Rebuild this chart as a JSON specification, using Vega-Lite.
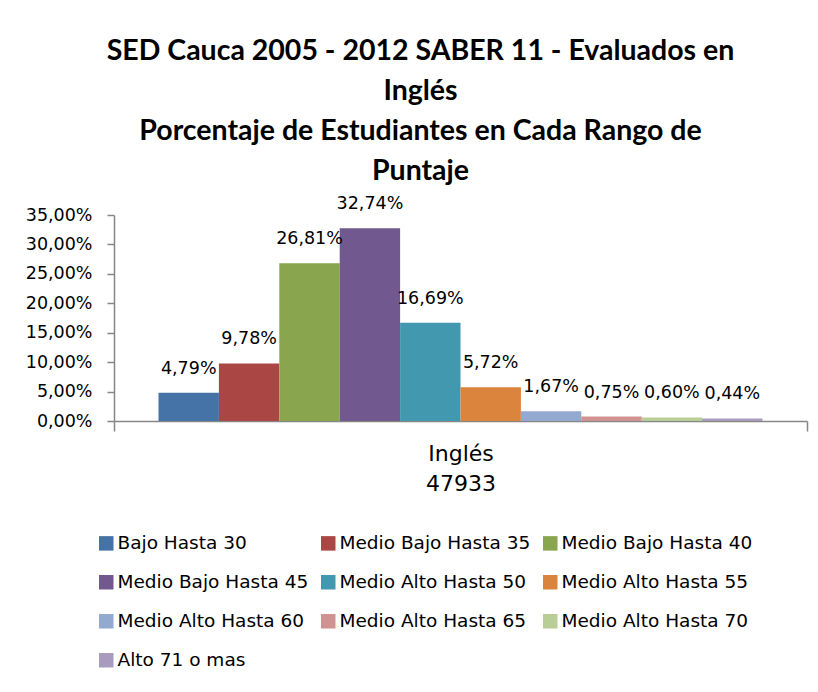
{
  "$schema": "https://vega.github.io/schema/vega-lite/v6.json",
  "width": 693,
  "height": 206,
  "autosize": {"type": "none"},
  "padding": {"left": 114, "top": 215, "right": 11, "bottom": 271},
  "background": "white",
  "config": {
    "locale": {"number": {"decimal": ",", "thousands": ".", "grouping": [3], "currency": ["", " €"]}},
    "view": {"stroke": null},
    "text": {"font": "DejaVu Sans"}
  },
  "title": {
    "text": ["SED Cauca 2005 - 2012 SABER 11 - Evaluados en", "Inglés", "Porcentaje de Estudiantes en Cada Rango de", "Puntaje"],
    "font": "Lato",
    "fontSize": 28.5,
    "fontWeight": "bold",
    "color": "#000000",
    "lineHeight": 40,
    "anchor": "middle",
    "dx": -40,
    "offset": 10
  },
  "data": {
    "values": [
      {"area": "Inglés", "rango": "Bajo Hasta 30", "pct": 0.0479},
      {"area": "Inglés", "rango": "Medio Bajo Hasta 35", "pct": 0.0978},
      {"area": "Inglés", "rango": "Medio Bajo Hasta 40", "pct": 0.2681},
      {"area": "Inglés", "rango": "Medio Bajo Hasta 45", "pct": 0.3274},
      {"area": "Inglés", "rango": "Medio Alto Hasta 50", "pct": 0.1669},
      {"area": "Inglés", "rango": "Medio Alto Hasta 55", "pct": 0.0572},
      {"area": "Inglés", "rango": "Medio Alto Hasta 60", "pct": 0.0167},
      {"area": "Inglés", "rango": "Medio Alto Hasta 65", "pct": 0.0075},
      {"area": "Inglés", "rango": "Medio Alto Hasta 70", "pct": 0.0060},
      {"area": "Inglés", "rango": "Alto 71 o mas", "pct": 0.0044}
    ]
  },
  "encoding": {
    "x": {
      "field": "area",
      "type": "nominal",
      "scale": {"paddingInner": 0, "paddingOuter": 0},
      "axis": {
        "title": null,
        "labelExpr": "datum.label ? ['Inglés', '47933'] : ''",
        "labelAngle": 0,
        "labelFont": "DejaVu Sans",
        "labelFontSize": 22,
        "labelLineHeight": 30,
        "labelColor": "#000000",
        "labelPadding": 12,
        "tickBand": "extent",
        "tickSize": 10,
        "tickColor": "#868686",
        "domainColor": "#868686",
        "domainWidth": 1.5,
        "tickWidth": 1.5
      }
    },
    "xOffset": {
      "field": "rango",
      "type": "nominal",
      "sort": null,
      "scale": {"paddingInner": 0, "paddingOuter": 0.737}
    },
    "y": {
      "field": "pct",
      "type": "quantitative",
      "scale": {"domain": [0, 0.35]},
      "axis": {
        "title": null,
        "values": [0, 0.05, 0.1, 0.15, 0.2, 0.25, 0.3, 0.35],
        "format": ".2%",
        "grid": false,
        "labelFont": "DejaVu Sans",
        "labelFontSize": 17.5,
        "labelColor": "#000000",
        "labelPadding": 15,
        "tickSize": 7,
        "tickColor": "#868686",
        "domainColor": "#868686",
        "domainWidth": 1.5,
        "tickWidth": 1.5
      }
    }
  },
  "layer": [
    {
      "mark": {"type": "bar"},
      "encoding": {
        "color": {
          "field": "rango",
          "type": "nominal",
          "sort": null,
          "scale": {
            "domain": ["Bajo Hasta 30", "Medio Bajo Hasta 35", "Medio Bajo Hasta 40", "Medio Bajo Hasta 45", "Medio Alto Hasta 50", "Medio Alto Hasta 55", "Medio Alto Hasta 60", "Medio Alto Hasta 65", "Medio Alto Hasta 70", "Alto 71 o mas"],
            "range": ["#4572A7", "#AA4643", "#89A54E", "#71588F", "#4198AF", "#DB843D", "#93A9CF", "#D19392", "#B9CD96", "#A99BBD"]
          },
          "legend": {
            "title": null,
            "orient": "none",
            "legendX": -17,
            "legendY": 319,
            "direction": "horizontal",
            "columns": 3,
            "gridAlign": "all",
            "symbolType": "square",
            "symbolSize": 210,
            "symbolStrokeWidth": 0,
            "symbolOpacity": 1,
            "labelFont": "DejaVu Sans",
            "labelFontSize": 18.5,
            "labelColor": "#000000",
            "labelOffset": 2,
            "labelLimit": 400,
            "columnPadding": 10,
            "rowPadding": 20,
            "padding": 0
          }
        }
      }
    },
    {
      "mark": {"type": "text", "baseline": "bottom", "dy": -15, "fontSize": 17.5, "font": "DejaVu Sans", "color": "#000000"},
      "encoding": {
        "text": {"field": "pct", "type": "quantitative", "format": ".2%"}
      }
    }
  ]
}
